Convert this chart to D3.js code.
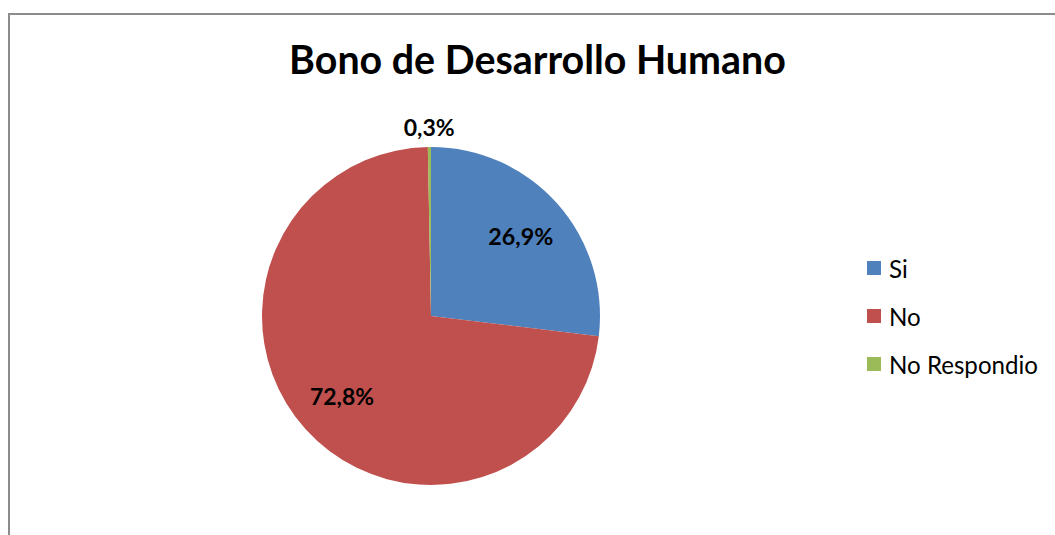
<!DOCTYPE html>
<html>
<head>
<meta charset="utf-8">
<script src="https://cdn.jsdelivr.net/npm/d3@7"></script>
<style>
  body { margin: 0; background: #fff; }
  svg { display: block; font-family: Lato, "Noto Sans", sans-serif; }
</style>
</head>
<body>
<script>
const categories = ['Si', 'No', 'No Respondio']
const values = [26.9, 72.8, 0.3]
const labels = ['26,9%', '72,8%', '0,3%']
const colors = ['#4F81BD', '#C0504D', '#9BBB59']
const title = 'Bono de Desarrollo Humano'

const W = 1055, H = 535
const cx = 431, cy = 316, r = 169

const svg = d3.select('body').append('svg').attr('width', W).attr('height', H)

// chart frame (only top and left edges visible in the crop)
svg.append('rect')
  .attr('x', 9).attr('y', 14)
  .attr('width', W + 20).attr('height', H + 20)
  .attr('fill', '#fff')
  .attr('stroke', '#8c8c8c').attr('stroke-width', 2)

// fit a text to a target width by scaling its font-size
function fit(sel, target) {
  const w = sel.node().getComputedTextLength()
  const fs = parseFloat(sel.attr('font-size'))
  sel.attr('font-size', fs * target / w)
  return fs * target / w
}

const t = svg.append('text')
  .attr('x', 537.5).attr('y', 74)
  .attr('text-anchor', 'middle')
  .attr('font-weight', 'bold')
  .attr('font-size', 36)
  .text(title)
fit(t, 497)

const pie = d3.pie().sort(null).value(d => d)
const arcs = pie(values)
const arc = d3.arc().innerRadius(0).outerRadius(r)
const inLabel = d3.arc().innerRadius(120).outerRadius(120)
const outLabel = d3.arc().innerRadius(189).outerRadius(189)

const g = svg.append('g').attr('transform', `translate(${cx},${cy})`)

g.selectAll('path')
  .data(arcs)
  .enter()
  .append('path')
  .attr('d', arc)
  .attr('fill', (d, i) => colors[i])

const lab = g.selectAll('text.lab')
  .data(arcs)
  .enter()
  .append('text')
  .attr('class', 'lab')
  .attr('text-anchor', 'middle')
  .attr('dominant-baseline', 'central')
  .attr('font-weight', 'bold')
  .attr('font-size', 21)
  .attr('transform', (d, i) => {
    const p = (d.value < 2 ? outLabel : inLabel).centroid(d)
    return `translate(${p[0]},${p[1]})`
  })
  .text((d, i) => labels[i])
fit(d3.select(lab.nodes()[0]), 65)
fit(d3.select(lab.nodes()[1]), 64)
fit(d3.select(lab.nodes()[2]), 51)

// legend
const legend = svg.append('g').attr('transform', 'translate(867, 268)')
const item = legend.selectAll('g')
  .data(categories)
  .enter()
  .append('g')
  .attr('transform', (d, i) => `translate(0, ${i * 48})`)

item.append('rect')
  .attr('x', 0).attr('y', -7)
  .attr('width', 14).attr('height', 14)
  .attr('fill', (d, i) => colors[i])

const lt = item.append('text')
  .attr('x', 22).attr('y', 0)
  .attr('dominant-baseline', 'central')
  .attr('font-size', 20)
  .attr('fill', '#000')
  .text(d => d)
const fs = fit(d3.select(lt.nodes()[2]), 149)
lt.attr('font-size', fs)
</script>
</body>
</html>
